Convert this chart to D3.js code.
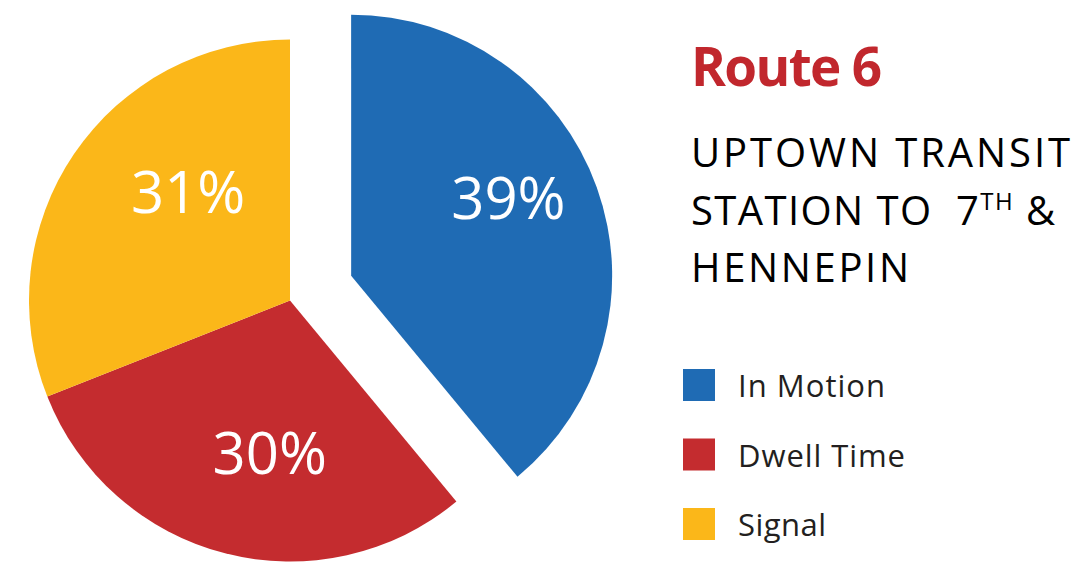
<!DOCTYPE html>
<html>
<head>
<meta charset="utf-8">
<script src="https://cdn.jsdelivr.net/npm/d3@7"></script>
<style>
  html, body { margin: 0; padding: 0; background: #ffffff; }
  svg { display: block; }
  text { font-family: "Open Sans", "DejaVu Sans", sans-serif; }
</style>
</head>
<body>
<svg id="chart" width="1079" height="563"></svg>
<script>
// ---- data ----
const categories = ["In Motion", "Dwell Time", "Signal"];
const values = [39, 30, 31];
const colors = ["#1F6BB4", "#C42C2F", "#FBB719"];
const exploded = [true, false, false];
const titleText = "Route 6";
const subtitleLines = ["UPTOWN TRANSIT", "STATION TO  7|TH| &", "HENNEPIN"];

// ---- layout ----
const W = 1079, H = 563;
const cx = 290, cy = 300.5, R = 261;
const explodeDist = 66;
const explodeAngleAdj = -0.04;  // radians, slight tilt of the explode direction
// small hand nudges for label placement (relative to label-arc centroid)
const labelNudge = [[5, -23], [20, -4], [32, -17]];

const svg = d3.select("#chart");
const g = svg.append("g").attr("transform", `translate(${cx},${cy})`);

const pie = d3.pie().sort(null).value(d => d.v);
const arc = d3.arc().innerRadius(0).outerRadius(R);
const labelArc = d3.arc().innerRadius(R * 0.62).outerRadius(R * 0.62);

const data = categories.map((c, i) => ({ c, v: values[i], col: colors[i], ex: exploded[i], i }));
const arcs = pie(data);

function shift(d) {
  if (!d.data.ex) return [0, 0];
  const a = (d.startAngle + d.endAngle) / 2 + explodeAngleAdj;
  return [Math.sin(a) * explodeDist, -Math.cos(a) * explodeDist];
}

const slices = g.selectAll("g.slice").data(arcs).enter().append("g")
  .attr("class", "slice")
  .attr("transform", d => { const s = shift(d); return `translate(${s[0]},${s[1]})`; });

slices.append("path")
  .attr("d", arc)
  .attr("fill", d => d.data.col);

slices.append("text")
  .attr("transform", d => {
    const c = labelArc.centroid(d);
    const n = labelNudge[d.index];
    return `translate(${c[0] + n[0]},${c[1] + n[1]})`;
  })
  .attr("text-anchor", "middle")
  .attr("dy", "0.36em")
  .attr("fill", "#ffffff")
  .attr("font-size", 58)
  .attr("font-weight", 400)
  .text(d => d.data.v + "%");

// ---- title ----
function fitSpacing(sel, target) {
  sel.attr("letter-spacing", 0);
  const node = sel.node();
  const n = sel.text().length;
  const w = node.getBBox().width;
  sel.attr("letter-spacing", ((target - w) / (n - 1)).toFixed(2));
}

const tx = 691;
const title = svg.append("text")
  .attr("x", tx).attr("y", 86)
  .attr("fill", "#C1272D")
  .attr("font-size", 53)
  .attr("font-weight", 700)
  .text(titleText);
fitSpacing(title, 191);

const subY = [167, 225, 282];
const subTargets = [379, 364, 218];
subtitleLines.forEach((line, i) => {
  const t = svg.append("text")
    .attr("x", tx).attr("y", subY[i])
    .attr("fill", "#000000")
    .attr("font-size", 40)
    .attr("font-weight", 400);
  const parts = line.split("|");
  if (parts.length === 1) {
    t.text(line);
    fitSpacing(t, subTargets[i]);
  } else {
    t.attr("xml:space", "preserve");
    t.append("tspan").text(parts[0]);
    t.append("tspan").attr("font-size", 24).attr("dy", -15).text(parts[1]);
    t.append("tspan").attr("dy", 15).text(parts[2]);
    const n = parts.join("").length;
    const w = t.node().getBBox().width;
    t.attr("letter-spacing", ((subTargets[i] - w) / (n - 1)).toFixed(2));
  }
});

// ---- legend ----
const legY = d3.scalePoint().domain(categories).range([369, 508]);
const legTargets = [147, 167, 88];
const leg = svg.append("g");
categories.forEach((c, i) => {
  leg.append("rect")
    .attr("x", 683).attr("y", legY(c))
    .attr("width", 32).attr("height", 32)
    .attr("fill", colors[i]);
  const t = leg.append("text")
    .attr("x", 738).attr("y", legY(c) + 28)
    .attr("fill", "#231F20")
    .attr("font-size", 31)
    .text(c);
  fitSpacing(t, legTargets[i]);
});
</script>
</body>
</html>
